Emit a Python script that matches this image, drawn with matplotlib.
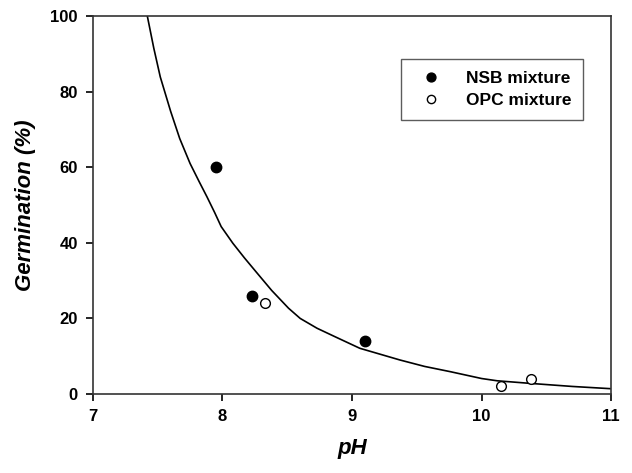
import matplotlib
matplotlib.use('Agg')
import matplotlib.pyplot as plt

# data
nsb_ph = [7.95, 8.23, 9.10]
nsb_germ = [60, 26, 14]
opc_ph = [8.33, 10.15, 10.38]
opc_germ = [24, 2, 4]

# fitted curve
fit_ph = [7.42, 7.47, 7.52, 7.60, 7.67, 7.75, 7.82, 7.88, 7.94, 7.99, 8.08, 8.17, 8.26, 8.38,
          8.51, 8.60, 8.73, 8.86, 9.06, 9.24, 9.37, 9.56, 9.76, 10.0, 10.12, 10.38, 10.7, 11.0]
fit_germ = [100, 91.5, 83.9, 74.8, 67.6, 61.0, 56.2, 52.2, 48.0, 44.3, 39.9, 36.0, 32.3, 27.4,
            22.7, 20.0, 17.4, 15.3, 12.1, 10.3, 9.0, 7.3, 5.9, 4.1, 3.5, 2.8, 2.0, 1.4]

plt.rcParams['font.family'] = ['Liberation Sans', 'DejaVu Sans']

fig = plt.figure(figsize=(6.32, 4.73), dpi=100)
ax = fig.add_axes([0.147, 0.167, 0.820, 0.799])

ax.plot(fit_ph, fit_germ, color='black', lw=1.2, zorder=2)
ax.plot(nsb_ph, nsb_germ, 'o', color='black', ms=7.5, ls='none', label='NSB mixture', zorder=3)
ax.plot(opc_ph, opc_germ, 'o', mfc='white', mec='black', mew=1.0, ms=7, ls='none',
        label='OPC mixture', zorder=3)

ax.set_xlim(7, 11)
ax.set_ylim(0, 100)
ax.set_xticks([7, 8, 9, 10, 11])
ax.set_yticks([0, 20, 40, 60, 80, 100])
ax.tick_params(direction='out', length=5, width=1.2, labelsize=12, pad=6)
for lab in ax.get_xticklabels() + ax.get_yticklabels():
    lab.set_fontweight('bold')
for s in ax.spines.values():
    s.set_linewidth(1.2)
    s.set_color('#333333')

ax.set_xlabel('pH', fontsize=16, fontweight='bold', fontstyle='italic', labelpad=10)
ax.set_ylabel('Germination (%)', fontsize=16, fontweight='bold', fontstyle='italic', labelpad=10)

leg = ax.legend(loc='upper right', bbox_to_anchor=(0.963, 0.91), fancybox=False,
                edgecolor='#333333', prop={'weight': 'bold', 'size': 12.5},
                handletextpad=1.0, borderpad=0.7, labelspacing=0.4, markerscale=0.85)
leg.get_frame().set_linewidth(1.0)

fig.savefig('out.png', dpi=100)
